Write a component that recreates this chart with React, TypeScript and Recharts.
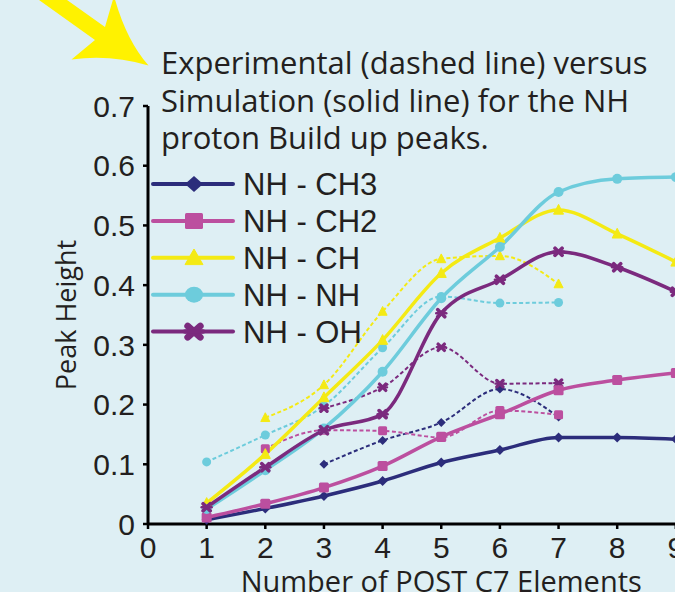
import React from 'react';
import { LineChart, Line, XAxis, YAxis, Label } from 'recharts';

// x positions (number of POST C7 elements)
const xValues = [1, 2, 3, 4, 5, 6, 7, 8, 9];

// Simulation (solid lines)
const simCH3 = [0.007, 0.026, 0.047, 0.072, 0.103, 0.124, 0.145, 0.145, 0.142];
const simCH2 = [0.011, 0.034, 0.061, 0.097, 0.146, 0.184, 0.224, 0.241, 0.253];
const simCH = [0.035, 0.117, 0.212, 0.308, 0.42, 0.479, 0.526, 0.486, 0.439];
const simNH = [0.025, 0.09, 0.16, 0.255, 0.378, 0.464, 0.556, 0.578, 0.581];
const simOH = [0.028, 0.095, 0.157, 0.184, 0.353, 0.409, 0.456, 0.43, 0.389];

// Experimental (dashed lines)
const expCH3 = [null, null, 0.1, 0.14, 0.17, 0.226, 0.179, null, null];
const expCH2 = [null, 0.126, 0.157, 0.156, 0.145, 0.19, 0.183, null, null];
const expCH = [null, 0.178, 0.233, 0.356, 0.444, 0.449, 0.402, null, null];
const expNH = [0.104, 0.149, 0.198, 0.295, 0.381, 0.37, 0.371, null, null];
const expOH = [null, null, 0.194, 0.229, 0.296, 0.235, 0.236, null, null];

const xTicks = [0, 1, 2, 3, 4, 5, 6, 7, 8, 9, 10];
const yTicks = [0, 0.1, 0.2, 0.3, 0.4, 0.5, 0.6, 0.7];

const titleLines = [
  'Experimental (dashed line) versus',
  'Simulation (solid line) for the NH',
  'proton Build up peaks.',
];

const series = [
  { name: 'NH - CH3', sim: 'simCH3', exp: 'expCH3', color: '#2C2D7B', marker: 'diamond' },
  { name: 'NH - CH2', sim: 'simCH2', exp: 'expCH2', color: '#BC4F9F', marker: 'square' },
  { name: 'NH - CH', sim: 'simCH', exp: 'expCH', color: '#F4EA14', marker: 'triangle' },
  { name: 'NH - NH', sim: 'simNH', exp: 'expNH', color: '#6DCCDC', marker: 'circle' },
  { name: 'NH - OH', sim: 'simOH', exp: 'expOH', color: '#7B2A7E', marker: 'x' },
];

const chartData = xValues.map((x, i) => ({
  x,
  simCH3: simCH3[i], simCH2: simCH2[i], simCH: simCH[i], simNH: simNH[i], simOH: simOH[i],
  expCH3: expCH3[i], expCH2: expCH2[i], expCH: expCH[i], expNH: expNH[i], expOH: expOH[i],
}));

const BG = '#DEEFF4';
const TEXT = '#231F20';
const HUMANIST = '"Open Sans", "Noto Sans", sans-serif';
const ARIAL = '"Liberation Sans", Arial, sans-serif';

function marker(kind: string, x: number, y: number, sx: number, sy: number, color: string, key?: string) {
  switch (kind) {
    case 'diamond':
      return <path key={key} d={`M${x},${y - sy}L${x + sx},${y}L${x},${y + sy}L${x - sx},${y}Z`} fill={color} />;
    case 'square':
      return <rect key={key} x={x - sx} y={y - sy} width={sx * 2} height={sy * 2} rx={1.5} fill={color} />;
    case 'triangle':
      return <path key={key} d={`M${x},${y - sy * 1.1}L${x + sx},${y + sy * 0.85}L${x - sx},${y + sy * 0.85}Z`} fill={color} strokeLinejoin="round" stroke={color} strokeWidth={1} />;
    case 'circle':
      return <ellipse key={key} cx={x} cy={y} rx={sx} ry={sy} fill={color} />;
    default:
      return (
        <g key={key} stroke={color} strokeWidth={sx * 0.75} strokeLinecap="round">
          <line x1={x - sx * 0.7} y1={y - sy * 0.7} x2={x + sx * 0.7} y2={y + sy * 0.7} />
          <line x1={x - sx * 0.7} y1={y + sy * 0.7} x2={x + sx * 0.7} y2={y - sy * 0.7} />
          <line x1={x - sx} y1={y} x2={x + sx} y2={y} strokeWidth={sx * 0.5} />
        </g>
      );
  }
}

const makeDot = (kind: string, color: string, s: number) => (props: any) => {
  const { cx, cy, index } = props;
  if (cx == null || cy == null || isNaN(cy)) return <g key={`n-${index}`} />;
  return marker(kind, cx, cy, s, s, color, `m-${index}`);
};

function Overlay() {
  return (
    <svg width={675} height={592} style={{ position: 'absolute', left: 0, top: 0, pointerEvents: 'none' }}>
      {/* yellow arrow */}
      <path
        d="M67,0 L105,27 L114,-4 Q126,40 148.5,65.5 Q110,54 71.5,59.5 L95,40 L39,0 Z"
        fill="#FFF200"
      />
      {titleLines.map((t, i) => (
        <text key={t} x={161} y={74 + i * 37.5} fontFamily={HUMANIST} fontSize={31} fill={TEXT}>
          {t}
        </text>
      ))}
      {series.map((s, i) => {
        const y = 184 + i * 36.9;
        return (
          <g key={s.name}>
            <line x1={153} x2={233} y1={y} y2={y} stroke={s.color} strokeWidth={4} strokeLinecap="round" />
            {marker(s.marker, 194, y, 9, 8, s.color)}
            <text x={243} y={y + 11} fontFamily={ARIAL} fontSize={31} fill={TEXT}>
              {s.name}
            </text>
          </g>
        );
      })}
    </svg>
  );
}

export default function App() {
  return (
    <div style={{ position: 'fixed', left: 0, top: 0, width: 675, height: 592, overflow: 'hidden', background: BG }}>
      <LineChart
        width={740}
        height={592}
        data={chartData}
        margin={{ top: 106, right: 5.5, bottom: 0, left: 0 }}
      >
        <XAxis
          type="number"
          dataKey="x"
          domain={[0, 10]}
          ticks={xTicks}
          interval={0}
          allowDataOverflow
          height={68}
          axisLine={{ stroke: '#000', strokeWidth: 3 }}
          tickLine={{ stroke: '#000', strokeWidth: 2.5 }}
          tickSize={5}
          tickMargin={8}
          tick={{ fontFamily: ARIAL, fontSize: 30, fill: TEXT }}
        >
          <Label
            content={({ viewBox }: any) => (
              <text
                x={viewBox.x + viewBox.width / 2}
                y={592}
                textAnchor="middle"
                fontFamily={HUMANIST}
                fontSize={29}
                fill={TEXT}
              >
                Number of POST C7 Elements
              </text>
            )}
          />
        </XAxis>
        <YAxis
          type="number"
          domain={[0, 0.7]}
          ticks={yTicks}
          interval={0}
          width={148}
          axisLine={{ stroke: '#000', strokeWidth: 3 }}
          tickLine={{ stroke: '#000', strokeWidth: 2.5 }}
          tickSize={5}
          tickMargin={8}
          tickFormatter={(v: number) => (v === 0 ? '0' : v.toFixed(1))}
          tick={{ fontFamily: ARIAL, fontSize: 30, fill: TEXT }}
        >
          <Label
            content={({ viewBox }: any) => (
              <text
                transform={`translate(76, ${viewBox.y + viewBox.height / 2}) rotate(-90)`}
                textAnchor="middle"
                fontFamily={HUMANIST}
                fontSize={27}
                fill={TEXT}
              >
                Peak Height
              </text>
            )}
          />
        </YAxis>
        {series.map((s) => (
          <Line
            key={s.exp}
            dataKey={s.exp}
            type="monotone"
            stroke={s.color}
            strokeWidth={2}
            strokeDasharray="4 2.5"
            dot={makeDot(s.marker, s.color, 4.5)}
            activeDot={false}
            connectNulls={false}
            isAnimationActive={false}
          />
        ))}
        {series.map((s) => (
          <Line
            key={s.sim}
            dataKey={s.sim}
            type="monotone"
            stroke={s.color}
            strokeWidth={3.5}
            dot={makeDot(s.marker, s.color, 5)}
            activeDot={false}
            isAnimationActive={false}
          />
        ))}
      </LineChart>
      <Overlay />
    </div>
  );
}
